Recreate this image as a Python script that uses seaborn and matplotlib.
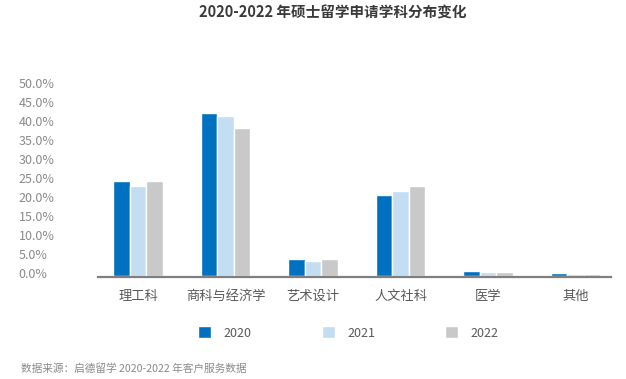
import pandas as pd
import numpy as np
import matplotlib
matplotlib.use('Agg')
import matplotlib.pyplot as plt
import matplotlib.transforms as mtransforms
import seaborn as sns

# data (percent)
subjects = ['理工科', '商科与经济学', '艺术设计', '人文社科', '医学', '其他']
years = ['2020', '2021', '2022']
share_2020 = [24.9, 42.9, 4.6, 21.2, 1.2, 0.7]
share_2021 = [23.8, 42.1, 3.9, 22.3, 1.1, 0.5]
share_2022 = [24.9, 38.9, 4.6, 23.8, 1.1, 0.5]
colors = ['#0070c0', '#c3ddf3', '#c9c9c9']

df = pd.DataFrame({
    'subject': subjects * 3,
    'year': [y for y in years for _ in subjects],
    'share': share_2020 + share_2021 + share_2022,
})

sns.set_style('white')
plt.rcParams['font.family'] = ['Noto Sans CJK SC', 'DejaVu Sans']

fig = plt.figure(figsize=(6.26, 3.79), dpi=100)
W, H = 626, 379
ax = fig.add_axes([98 / W, 1 - 276 / H, (611 - 98) / W, (276 - 86) / H])

sns.barplot(data=df, x='subject', y='share', hue='year', order=subjects,
            hue_order=years, palette=colors, width=0.57, edgecolor='white',
            linewidth=1.0, saturation=1, ax=ax)

ax.set_xlim(-0.457, 5.406)
ax.set_ylim(0, 50)
ax.set_yticks(np.arange(0, 51, 5))
ax.set_yticklabels([f'{v:.1f}%' for v in np.arange(0, 51, 5)])
ax.set_xlabel('')
ax.set_ylabel('')

for side in ['top', 'right', 'left']:
    ax.spines[side].set_visible(False)
ax.spines['bottom'].set_color('#7f7f7f')
ax.spines['bottom'].set_linewidth(1.6)
ax.spines['bottom'].set_position(('outward', 0.9))

ax.tick_params(axis='y', length=0, pad=57, labelsize=9, labelcolor='#8a8a8a')
shift = mtransforms.ScaledTranslation(0, 2 / 72, fig.dpi_scale_trans)
for lab in ax.get_yticklabels():
    lab.set_horizontalalignment('left')
    lab.set_transform(lab.get_transform() + shift)
ax.tick_params(axis='x', length=0, pad=9, labelsize=9.5, labelcolor='#595959')

handles, labels = ax.get_legend_handles_labels()
ax.get_legend().remove()
fig.legend(handles, labels, loc='center', bbox_to_anchor=(348.5 / W, 1 - 333 / H),
           ncol=3, frameon=False, fontsize=9, handlelength=1.04,
           handleheight=1.1, columnspacing=5.6, handletextpad=1.0,
           labelcolor='#595959')

fig.text(333 / W, 1 - 13 / H, '2020-2022 年硕士留学申请学科分布变化',
         ha='center', va='center', fontsize=10.5, fontweight='bold', color='#3a3a3a')
fig.text(21 / W, 1 - 368 / H, '数据来源：启德留学 2020-2022 年客户服务数据',
         ha='left', va='center', fontsize=7.7, style='italic', color='#8a8a8a')

fig.savefig('out.png', dpi=100)
